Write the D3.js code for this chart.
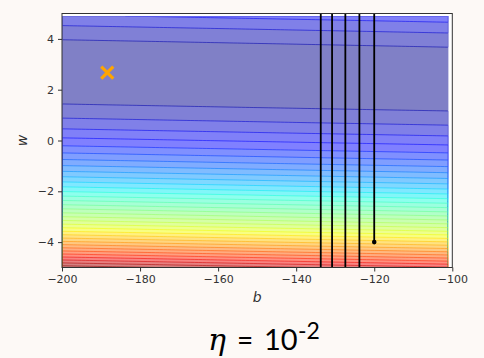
<!DOCTYPE html>
<html><head><meta charset="utf-8">
<script src="https://cdn.jsdelivr.net/npm/d3@7"></script>
<style>html,body{margin:0;padding:0;background:#fdf9f6;} svg{display:block}</style>
</head><body>
<svg id="c" width="484" height="358"></svg>
<script>
// ---- data ----
const xData = [338, 333, 328, 207, 226, 25, 179, 60, 208, 606];
const yData = [640, 633, 619, 393, 428, 27, 193, 66, 226, 1591];
const bGrid = d3.range(-200, -100, 1);            // bias grid
const wGrid = d3.range(-50, 50).map(k => k / 10); // weight grid
const bHistory = [-120, -123.8, -127.4, -130.8, -133.7, -136.4];
const wHistory = [-4, 5e3, -6e6, 7e9, -8e12, 9e15];
const optimum = [-188.4, 2.67];
const xTicks = [-200, -180, -160, -140, -120, -100];
const yTicks = [-4, -2, 0, 2, 4];
const xLabel = "b", yLabel = "w";
const titleEta = "η", titleEq = "=", titleBase = "10", titleSup = "-2";

// ---- layout ----
const svg = d3.select("#c");
const L = 62, R = 452.3, T = 13.5, B = 267.5;
const xS = d3.scaleLinear().domain([-200, -100]).range([L, R]);
const yS = d3.scaleLinear().domain([-5, 5]).range([B, T]);

// ---- loss surface ----
const nb = bGrid.length, nw = wGrid.length;
const Z = new Float64Array(nb * nw);
for (let j = 0; j < nw; j++) for (let i = 0; i < nb; i++) {
  let s = 0;
  for (let n = 0; n < xData.length; n++) { const r = yData[n] - bGrid[i] - wGrid[j] * xData[n]; s += r * r; }
  Z[j * nb + i] = s / xData.length;
}
const zmin = d3.min(Z), zmax = d3.max(Z);
function maxNLevels(lo, hi, nbins) {
  const steps = [1, 1.5, 2, 2.5, 3, 4, 5, 6, 8, 10];
  const raw = (hi - lo) / nbins;
  const scale = Math.pow(10, Math.floor(Math.log10(raw)));
  const step = steps.map(s => s * scale).find(s => s >= raw - 1e-9);
  return d3.range(Math.floor(lo / step), Math.ceil(hi / step) + 1).map(k => k * step);
}
const levels = maxNLevels(zmin, zmax, 51);

const jetSeg = {
  r: [[0, 0], [0.35, 0], [0.66, 1], [0.89, 1], [1, 0.5]],
  g: [[0, 0], [0.125, 0], [0.375, 1], [0.64, 1], [0.91, 0], [1, 0]],
  b: [[0, 0.5], [0.11, 1], [0.34, 1], [0.65, 0], [1, 0]]
};
function segv(pts, x) {
  for (let k = 1; k < pts.length; k++) if (x <= pts[k][0]) {
    const [x0, y0] = pts[k - 1], [x1, y1] = pts[k];
    return y0 + (y1 - y0) * (x - x0) / (x1 - x0);
  }
  return pts[pts.length - 1][1];
}
function jet(v) {
  const idx = Math.min(255, Math.max(0, Math.floor(v * 256)));
  const x = idx / 255;
  return [segv(jetSeg.r, x), segv(jetSeg.g, x), segv(jetSeg.b, x)];
}
function rgb(c, a) { // blend over white
  return d3.rgb(...c.map(v => Math.round((v * a + (1 - a)) * 255))).formatHex();
}
const vmin = levels[0], vmax = levels[levels.length - 1];
const bandColor = i => jet(((levels[i] + levels[i + 1]) / 2 - vmin) / (vmax - vmin));

// axes background
svg.append("rect").attr("x", L).attr("y", T).attr("width", R - L).attr("height", B - T).attr("fill", "#ffffff");

const defs = svg.append("defs");
defs.append("clipPath").attr("id", "ax").append("rect").attr("x", L).attr("y", T).attr("width", R - L).attr("height", B - T);
defs.append("clipPath").attr("id", "inner").append("rect")
  .attr("x", xS(bGrid[0]) + 0.6).attr("y", yS(wGrid[nw - 1]) + 0.6)
  .attr("width", xS(bGrid[nb - 1]) - xS(bGrid[0]) - 1.2).attr("height", yS(wGrid[0]) - yS(wGrid[nw - 1]) - 1.2);

const contours = d3.contours().size([nb, nw]).thresholds(levels.slice(0, -1))(Z);
const db = bGrid[1] - bGrid[0], dw = wGrid[1] - wGrid[0];
const proj = d3.geoTransform({
  point(x, y) {
    const i = Math.max(0, Math.min(nb - 1, x - 0.5));
    const j = Math.max(0, Math.min(nw - 1, y - 0.5));
    this.stream.point(xS(bGrid[0] + i * db), yS(wGrid[0] + j * dw));
  }
});
const gp = d3.geoPath(proj);
const gC = svg.append("g").attr("clip-path", "url(#ax)");
contours.forEach((c, i) => {
  gC.append("path").attr("d", gp(c)).attr("fill", rgb(bandColor(i), 0.5)).attr("stroke", "none");
});
const gS = svg.append("g").attr("clip-path", "url(#inner)");
contours.forEach((c, i) => {
  if (i === 0) return;
  gS.append("path").attr("d", gp(c)).attr("fill", "none")
    .attr("stroke", rgb(bandColor(i), 1)).attr("stroke-opacity", 0.55).attr("stroke-width", 1);
});

// ---- gradient-descent path ----
const gP = svg.append("g").attr("clip-path", "url(#ax)");
const line = d3.line().x(d => xS(d[0])).y(d => yS(d[1]));
const wLo = -5.5, wHi = 5.5;
for (let k = 0; k < bHistory.length - 1; k++) {
  const b0 = bHistory[k], w0 = wHistory[k], b1 = bHistory[k + 1], w1 = wHistory[k + 1];
  const tA = (wLo - w0) / (w1 - w0), tB = (wHi - w0) / (w1 - w0);
  const t0 = Math.max(0, Math.min(tA, tB)), t1 = Math.min(1, Math.max(tA, tB));
  if (t0 >= t1) continue;
  const pts = [t0, t1].map(t => [b0 + (b1 - b0) * t, w0 + (w1 - w0) * t]);
  gP.append("path").attr("d", line(pts)).attr("fill", "none").attr("stroke", "#000").attr("stroke-width", 1.8);
}
bHistory.forEach((b, k) => {
  const w = wHistory[k];
  if (w < -5 || w > 5) return;
  gP.append("circle").attr("cx", xS(b)).attr("cy", yS(w)).attr("r", 2.3).attr("fill", "#000");
});

// optimum marker
{
  const cx = xS(optimum[0]), cy = yS(optimum[1]), h = 6;
  svg.append("path").attr("d", `M${cx - h},${cy - h}L${cx + h},${cy + h}M${cx - h},${cy + h}L${cx + h},${cy - h}`)
    .attr("stroke", "#ffa500").attr("stroke-width", 3.2).attr("fill", "none");
}

// ---- axes ----
const fmt = d => d3.format("d")(d).replace("-", "\u2212");
const ax = svg.append("g").attr("transform", `translate(0,${B})`)
  .call(d3.axisBottom(xS).tickValues(xTicks).tickFormat(fmt).tickSize(4).tickPadding(4));
const ay = svg.append("g").attr("transform", `translate(${L},0)`)
  .call(d3.axisLeft(yS).tickValues(yTicks).tickFormat(fmt).tickSize(4).tickPadding(4));
[ax, ay].forEach(g => {
  g.select(".domain").remove();
  g.selectAll("line").attr("stroke", "#333");
  g.selectAll("text").attr("font-family", "DejaVu Sans").attr("font-size", 11).attr("fill", "#333");
});
svg.append("rect").attr("x", L).attr("y", T).attr("width", R - L).attr("height", B - T)
  .attr("fill", "none").attr("stroke", "#333").attr("stroke-width", 1);

svg.append("text").attr("x", (L + R) / 2).attr("y", 302).attr("text-anchor", "middle")
  .attr("font-family", "DejaVu Sans").attr("font-style", "italic").attr("font-size", 14).attr("fill", "#333").text(xLabel);
svg.append("text").attr("transform", `translate(27,${(T + B) / 2}) rotate(-90)`).attr("text-anchor", "middle")
  .attr("font-family", "DejaVu Sans").attr("font-style", "italic").attr("font-size", 14).attr("fill", "#333").text(yLabel);

// ---- title ----
const tt = svg.append("text").attr("y", 350).attr("fill", "#000");
tt.append("tspan").attr("x", 208).attr("font-family", "DejaVu Serif").attr("font-style", "italic").attr("font-size", 30).text(titleEta);
tt.append("tspan").attr("x", 237).attr("font-family", "Lato").attr("font-size", 28).text(titleEq);
tt.append("tspan").attr("x", 264).attr("font-family", "Lato").attr("font-size", 29).text(titleBase);
tt.append("tspan").attr("x", 298).attr("font-family", "Lato").attr("font-size", 23).attr("dy", -11).text(titleSup);
</script>
</body></html>
